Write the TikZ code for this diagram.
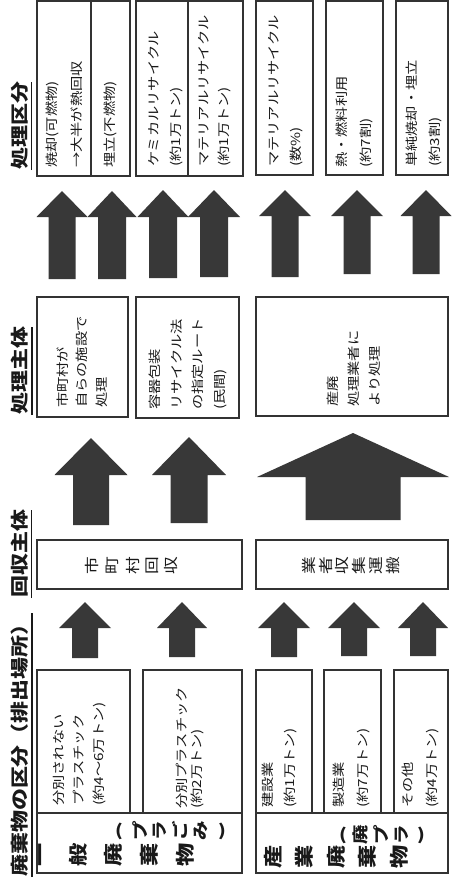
\documentclass[tikz,border=0pt]{standalone}
\usepackage{fontspec}
\setmainfont{Noto Sans CJK JP}[FakeStretch=1.22]
\newcommand\barrow[6]{\fill[arr] (#1,#2) -- ({#1+#5/2},#3) -- ({#1+#6/2},#3) -- ({#1+#6/2},#4) -- ({#1-#6/2},#4) -- ({#1-#6/2},#3) -- ({#1-#5/2},#3) -- cycle;}
\begin{document}
\begin{tikzpicture}[x=1pt,y=-1pt,
  box/.style={draw=black!80, line width=1.1pt},
  arr/.style={fill=black!78},
  ul/.style={draw=black!90, line width=1.3pt},
  t/.style={rotate=90, anchor=west, align=left, inner sep=0pt, text=black!90, font=\fontsize{12.5}{21}\selectfont},
  hd/.style={rotate=90, anchor=west, inner sep=0pt, text=black!90, font=\fontsize{18}{20}\selectfont\bfseries},
  vc/.style={rotate=90, inner sep=0pt, text=black!90, font=\fontsize{14.5}{15}\selectfont},
  vb/.style={rotate=90, inner sep=0pt, text=black!90, font=\fontsize{19}{19}\selectfont\bfseries},
  vp/.style={rotate=90, inner sep=0pt, text=black!90, font=\fontsize{16}{16}\selectfont\bfseries},
  vq/.style={inner sep=0pt, text=black!90, font=\fontsize{16}{16}\selectfont\bfseries}]
\useasboundingbox[fill=white] (0,0) rectangle (451,879);

% headers
\node[hd] (hA) at (20,170) {処理区分};
\node[hd] (hB) at (20,415) {処理主体};
\node[hd] (hC) at (20,598) {回収主体};
\node[hd] (hD) at (20,877) {廃棄物の区分（排出場所）};
\foreach \h in {hA,hB,hC,hD}
  \draw[ul] ([xshift=3pt]\h.south west) -- ([xshift=3pt]\h.south east);

% processing categories
\draw[box] (37,1) rectangle (91,176);
\draw[box] (91,1) rectangle (130,176);
\draw[box] (136,1) rectangle (188,176);
\draw[box] (188,1) rectangle (243,176);
\draw[box] (256,1) rectangle (313,175);
\draw[box] (326,1) rectangle (383,175);
\draw[box] (396,1) rectangle (448,175);
\node[t, font=\fontsize{12.5}{25}\selectfont] (t1) at (64,168) {焼却(可燃物)\\→大半が熱回収};
\node[t] (t2) at (110,168) {埋立(不燃物)};
\node[t, font=\fontsize{12.5}{22}\selectfont] (t3) at (166,167) {ケミカルリサイクル\\(約1万トン)};
\node[t, font=\fontsize{12.5}{20}\selectfont] (t4) at (215,167) {マテリアルリサイクル\\(約1万トン)};
\node[t, font=\fontsize{12.5}{22}\selectfont] (t5) at (286,167) {マテリアルリサイクル\\(数\%)};
\node[t, font=\fontsize{12.5}{24}\selectfont] (t6) at (354,168) {熱・燃料利用\\(約7割)};
\node[t, font=\fontsize{12.5}{23}\selectfont] (t7) at (424,167) {単純焼却・埋立\\(約3割)};

% arrows row 1
\barrow{62}{191}{217}{279}{51}{27}
\barrow{112}{191}{217}{279}{49}{28}
\barrow{163}{190}{217}{278}{51}{28}
\barrow{214}{190}{217}{277}{52}{28}
\barrow{285}{190}{216}{277}{52}{27}
\barrow{357}{190}{216}{274}{52}{27}
\barrow{426}{190}{216}{274}{51}{27}

% processing bodies
\draw[box] (37,297) rectangle (128,417);
\draw[box] (136,297) rectangle (239,418);
\draw[box] (256,297) rectangle (448,416);
\node[t, font=\fontsize{12.5}{19.5}\selectfont] (p1) at (82,408) {市町村が\\自らの施設で\\処理};
\node[t, font=\fontsize{12.5}{21.5}\selectfont] (p2) at (188,410) {容器包装\\リサイクル法\\の指定ルート\\(民間)};
\node[t, font=\fontsize{12.5}{21}\selectfont] (p3) at (354,407) {産廃\\処理業者に\\より処理};

% arrows row 2
\barrow{91}{438}{475}{525}{73}{36}
\barrow{189}{437}{475}{523}{74}{37}
\barrow{353}{433}{477}{520}{192}{95}

% collection bodies
\draw[box] (37,540) rectangle (242,589);
\draw[box] (256,540) rectangle (448,589);
\foreach \c/\xx [count=\i] in {市/92,町/112,村/133,回/152,収/171}
  \node[vc] (rA\i) at (\xx,566) {\c};
\foreach \c/\xx [count=\i] in {業/309,者/326,収/342,集/359,運/376,搬/393}
  \node[vc] (rB\i) at (\xx,566) {\c};

% arrows row 3
\barrow{85}{602}{628}{658}{52}{26}
\barrow{182}{602}{628}{657}{50}{26}
\barrow{284}{602}{628}{657}{52}{26}
\barrow{354}{602}{628}{656}{52}{26}
\barrow{423}{602}{628}{656}{50}{26}

% waste categories
\draw[box] (37,670) rectangle (130,813);
\draw[box] (143,670) rectangle (242,813);
\draw[box] (256,670) rectangle (312,813);
\draw[box] (324,670) rectangle (381,813);
\draw[box] (394,670) rectangle (448,813);
\draw[box] (37,813) rectangle (242,873);
\draw[box] (256,813) rectangle (448,873);
\node[t, font=\fontsize{12.5}{20}\selectfont] (s1) at (80,806) {分別されない\\プラスチック\\(約4〜6万トン)};
\node[t, font=\fontsize{12.5}{15}\selectfont] (s2) at (190,809) {分別プラスチック\\(約2万トン)};
\node[t, font=\fontsize{12.5}{22}\selectfont] (s3) at (279,808) {建設業\\(約1万トン)};
\node[t, font=\fontsize{12.5}{24}\selectfont] (s4) at (351,808) {製造業\\(約7万トン)};
\node[t, font=\fontsize{12.5}{24}\selectfont] (s5) at (420,808) {その他\\(約4万トン)};

\foreach \c/\xx [count=\i] in {一/43,般/78,廃/113,棄/149,物/185}
  \node[vb] (gA\i) at (\xx,855) {\c};
\node[vq] (gAo) at (119,831) {(};
\foreach \c/\xx [count=\i] in {プ/140,ラ/160,ご/180,み/201}
  \node[vp] (gAp\i) at (\xx,831) {\c};
\node[vq] (gAc) at (222,831) {)};

\foreach \c/\xx [count=\i] in {産/273,業/304,廃/336,棄/367,物/399}
  \node[vb] (gB\i) at (\xx,857) {\c};
\node[vq] (gBo) at (343,835) {(};
\foreach \c/\xx [count=\i] in {廃/360,プ/381,ラ/402}
  \node[vp] (gBp\i) at (\xx,835) {\c};
\node[vq] (gBc) at (421,835) {)};
\end{tikzpicture}
\end{document}
